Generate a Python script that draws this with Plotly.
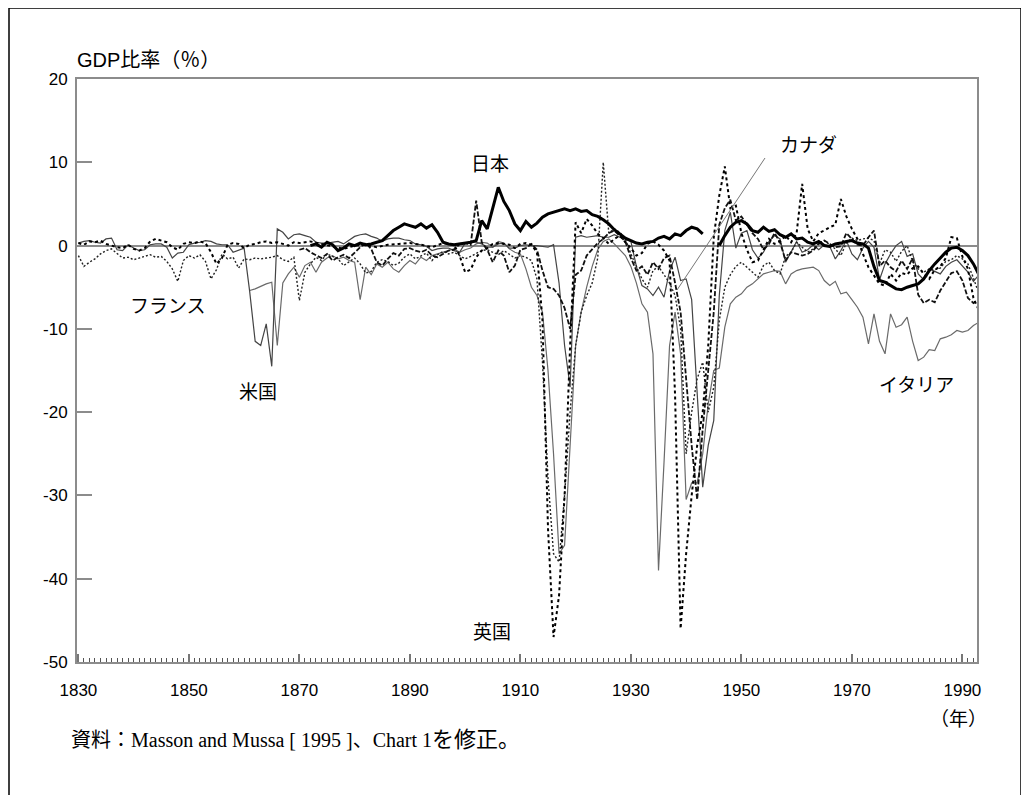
import plotly.graph_objects as go

# ---------------- data (year, % of GDP) ----------------
UK = [(1830,0.3),(1831,0.1),(1832,0.5),(1833,0.4),(1834,0.6),(1835,0.2),(1836,0.0),(1837,-0.2),
      (1838,-0.3),(1839,0.1),(1840,-0.4),(1841,-0.6),(1842,-0.3),(1843,0.5),(1844,0.8),(1845,0.6),
      (1846,0.4),(1847,-0.2),(1848,-0.5),(1849,0.2),(1850,0.4),(1851,0.3),(1852,0.5),(1853,0.3),
      (1854,-0.8),(1855,-2.2),(1856,-1.5),(1857,0.1),(1858,0.3),(1859,0.2),(1860,-0.3),(1861,0.1),
      (1862,0.2),(1863,0.4),(1864,0.5),(1865,0.3),(1866,0.4),(1867,0.2),(1868,0.0),(1869,0.4),
      (1870,0.3),(1872,0.5),(1874,0.2),(1876,-0.1),(1878,-0.4),(1880,0.0),(1882,0.1),(1884,-0.2),
      (1886,0.1),(1888,0.2),(1890,0.3),(1892,0.1),(1894,-0.2),(1896,0.3),(1898,0.1),(1899,-1.2),
      (1900,-3.2),(1901,-2.9),(1902,-1.4),(1903,-0.6),(1904,-0.3),(1905,0.2),(1906,0.3),(1907,0.2),
      (1908,0.1),(1909,-0.3),(1910,0.2),(1911,0.3),(1912,0.1),(1913,-0.8),(1914,-9),(1915,-34),
      (1916,-47),(1917,-42),(1918,-30),(1919,-12),(1920,2.8),(1921,1.5),(1922,3.2),(1923,2.4),
      (1924,1.4),(1925,0.9),(1926,0.2),(1927,0.8),(1928,1.2),(1929,0.4),(1930,-0.3),(1931,-1.2),
      (1932,-0.9),(1933,0.2),(1934,0.5),(1935,0.1),(1936,-0.6),(1937,-1.8),(1938,-18),(1939,-46),
      (1940,-37),(1941,-30),(1942,-24),(1943,-20),(1944,-12),(1945,1),(1946,6),(1947,9.5),
      (1948,4.5),(1949,4.8),(1950,1.5),(1951,-0.5),(1952,-2.0),(1953,-1.8),(1954,-0.5),(1955,0.8),
      (1956,0.2),(1957,0.5),(1958,1.2),(1959,0.4),(1960,1.5),(1961,7.4),(1962,2.0),(1963,0.5),
      (1964,1.5),(1965,1.8),(1966,2.2),(1967,2.5),(1968,5.6),(1969,3.5),(1970,2.0),(1971,0.8),
      (1972,-1.0),(1973,-2.6),(1974,-3.6),(1975,-4.6),(1976,-4.8),(1977,-3.4),(1978,-4.2),
      (1979,-3.3),(1980,-3.5),(1981,-2.7),(1982,-2.5),(1983,-3.4),(1984,-4.0),(1985,-2.9),
      (1986,-2.5),(1987,-1.5),(1988,1.0),(1989,0.9),(1990,-1.3),(1991,-2.8),(1992,-6.3),(1993,-7.8)]

FRANCE = [(1830,-1.2),(1831,-2.5),(1832,-2.0),(1833,-1.6),(1834,-1.0),(1835,-0.6),(1836,-0.4),
      (1837,-1.0),(1838,-1.5),(1839,-1.4),(1840,-1.7),(1841,-1.5),(1842,-1.3),(1843,-1.1),(1844,-1.4),
      (1845,-1.3),(1846,-1.9),(1847,-2.8),(1848,-4.3),(1849,-1.8),(1850,-1.2),(1851,-1.5),(1852,-1.1),
      (1853,-1.9),(1854,-4.0),(1855,-2.9),(1856,-1.0),(1857,-1.6),(1858,-1.4),(1859,-2.7),(1860,-1.6),
      (1861,-1.7),(1862,-1.5),(1863,-1.6),(1864,-1.5),(1865,-1.4),(1866,-1.2),(1867,-1.7),(1868,-1.9),
      (1869,-1.4),(1870,-6.6),(1871,-3.2),(1872,-2.2),(1873,-1.4),(1874,-1.8),(1875,-1.0),(1876,-1.3),
      (1877,-1.6),(1878,-2.4),(1879,-1.9),(1880,-1.5),(1881,-2.2),(1882,-3.3),(1883,-3.1),(1884,-2.0),
      (1885,-1.7),(1886,-1.9),(1887,-2.4),(1888,-2.1),(1889,-1.4),(1890,-1.0),(1891,-1.6),(1892,-1.2),
      (1893,-0.9),(1894,-1.8),(1895,-1.1),(1896,-0.7),(1897,-1.0),(1898,-0.8),(1899,-1.2),(1900,-1.6),
      (1901,-1.3),(1902,-0.9),(1903,-0.6),(1904,-0.5),(1905,-0.8),(1906,-1.1),(1907,-0.6),(1908,-1.0),
      (1909,-1.5),(1910,-1.2),(1911,-1.4),(1912,-1.8),(1913,-4.0),(1914,-14),(1915,-28),(1916,-37),
      (1917,-38),(1918,-30),(1919,-20),(1920,-12),(1921,-8),(1922,-6),(1923,-4.5),(1924,-1.5),
      (1925,10),(1926,1.5),(1927,2.0),(1928,1.6),(1929,0.8),(1930,-1.0),(1931,-2.6),(1932,-4.0),
      (1933,-5.0),(1934,-3.0),(1935,-2.5),(1936,-3.5),(1937,-4.5),(1938,-6.0),(1939,-10),(1940,-25),
      (1941,-20),(1942,-16),(1943,-14),(1944,-20),(1945,-17),(1946,-9),(1947,-5),(1948,-3.5),
      (1949,-2.5),(1950,-2.0),(1951,-2.6),(1952,-3.2),(1953,-3.8),(1954,-2.4),(1955,-2.0),(1956,-3.0),
      (1957,-3.4),(1958,-1.3),(1959,-0.8),(1960,0.4),(1961,-0.2),(1962,-0.8),(1963,-0.4),(1964,0.3),
      (1965,0.6),(1966,0.1),(1967,-0.4),(1968,-1.2),(1969,0.3),(1970,0.9),(1971,0.6),(1972,0.8),
      (1973,0.9),(1974,0.6),(1975,-2.2),(1976,-0.5),(1977,-0.8),(1978,-1.9),(1979,-0.7),(1980,0.0),
      (1981,-1.9),(1982,-2.8),(1983,-3.2),(1984,-2.8),(1985,-2.9),(1986,-2.7),(1987,-1.9),(1988,-1.7),
      (1989,-1.2),(1990,-1.6),(1991,-2.2),(1992,-3.9),(1993,-5.8)]

US = [(1830,0.3),(1831,0.5),(1832,0.6),(1833,0.4),(1834,0.3),(1835,0.8),(1836,0.9),(1837,-0.5),
      (1838,-0.6),(1839,0.1),(1840,-0.3),(1841,-0.6),(1842,-0.5),(1843,0.1),(1844,0.2),(1845,0.2),
      (1846,-0.2),(1847,-1.5),(1848,-0.9),(1849,-0.8),(1850,0.1),(1851,0.3),(1852,0.4),(1853,0.6),
      (1854,0.5),(1855,0.2),(1856,0.1),(1857,0.1),(1858,-0.8),(1859,-0.5),(1860,-0.3),(1861,-5.5),
      (1862,-11.5),(1863,-12.0),(1864,-9.4),(1865,-14.5),(1866,2.0),(1867,1.6),(1868,0.8),(1869,1.3),
      (1870,1.4),(1871,1.2),(1872,1.0),(1873,0.4),(1874,0.3),(1875,0.3),(1876,0.4),(1877,0.5),
      (1878,0.2),(1879,0.6),(1880,1.1),(1881,1.3),(1882,1.4),(1883,1.1),(1884,0.9),(1885,0.5),
      (1886,0.8),(1887,0.9),(1888,0.9),(1889,0.7),(1890,0.6),(1891,0.2),(1892,0.1),(1893,-0.1),
      (1894,-0.6),(1895,-0.4),(1896,-0.3),(1897,-0.3),(1898,-0.6),(1899,-0.8),(1900,0.3),(1901,0.4),
      (1902,0.4),(1903,0.2),(1904,-0.2),(1905,-0.2),(1906,0.2),(1907,0.3),(1908,-0.3),(1909,-0.3),
      (1910,0.0),(1911,0.1),(1912,0.0),(1913,0.0),(1914,-0.1),(1915,-0.2),(1916,0.1),(1917,-4.5),
      (1918,-12),(1919,-17),(1920,1.0),(1921,1.2),(1922,1.0),(1923,1.1),(1924,1.2),(1925,1.0),
      (1926,1.0),(1927,1.3),(1928,1.0),(1929,0.8),(1930,0.5),(1931,-2.5),(1932,-4.8),(1933,-5.2),
      (1934,-6.0),(1935,-5.0),(1936,-6.2),(1937,-3.0),(1938,-1.4),(1939,-4.2),(1940,-4.0),(1941,-6.5),
      (1942,-18),(1943,-29),(1944,-24),(1945,-21),(1946,-6),(1947,1.8),(1948,4.0),(1949,-0.3),
      (1950,1.5),(1951,1.8),(1952,-0.5),(1953,-1.5),(1954,-0.8),(1955,0.5),(1956,1.2),(1957,0.8),
      (1958,-2.0),(1959,-0.8),(1960,0.5),(1961,-0.8),(1962,-0.5),(1963,0.1),(1964,-0.5),(1965,0.1),
      (1966,-0.1),(1967,-1.6),(1968,-0.6),(1969,0.6),(1970,-1.0),(1971,-1.7),(1972,-0.3),(1973,0.5),
      (1974,-0.2),(1975,-4.1),(1976,-2.2),(1977,-1.0),(1978,0.0),(1979,0.5),(1980,-1.3),(1981,-1.0),
      (1982,-3.4),(1983,-4.1),(1984,-2.8),(1985,-3.1),(1986,-3.4),(1987,-2.5),(1988,-2.0),(1989,-1.7),
      (1990,-2.5),(1991,-3.2),(1992,-4.3),(1993,-3.5)]

ITALY = [(1861,-5.4),(1862,-5.2),(1863,-4.9),(1864,-4.6),(1865,-4.4),(1866,-12.0),(1867,-4.5),
      (1868,-3.4),(1869,-2.6),(1870,-3.8),(1871,-2.4),(1872,-2.0),(1873,-3.2),(1874,-2.0),(1875,-1.5),
      (1876,-1.2),(1877,-1.6),(1878,-1.4),(1879,-1.8),(1880,-2.0),(1881,-6.5),(1882,-2.6),(1883,-3.5),
      (1884,-2.2),(1885,-2.6),(1886,-2.0),(1887,-2.8),(1888,-3.2),(1889,-2.4),(1890,-1.8),(1891,-2.2),
      (1892,-1.4),(1893,-1.8),(1894,-1.2),(1895,-1.0),(1896,-0.8),(1897,-0.6),(1898,-0.4),(1899,-0.8),
      (1900,-0.5),(1901,-0.3),(1902,0.2),(1903,0.4),(1904,0.3),(1905,-0.2),(1906,0.5),(1907,0.3),
      (1908,-0.4),(1909,-0.8),(1910,-1.0),(1911,-2.8),(1912,-5.0),(1913,-6.0),(1914,-8.0),(1915,-15),
      (1916,-25),(1917,-37),(1918,-36),(1919,-24),(1920,-12),(1921,-8),(1922,-5),(1923,-2.5),
      (1924,-0.5),(1925,0.5),(1926,0.8),(1927,0.2),(1928,-0.5),(1929,-1.2),(1930,-2.5),(1931,-4.5),
      (1932,-7),(1933,-8),(1934,-13),(1935,-39),(1936,-26),(1937,-12),(1938,-8),(1939,-13),
      (1940,-30.5),(1941,-28.5),(1942,-28.5),(1943,-25),(1944,-19),(1945,-15),(1946,-14.7),(1947,-9.8),
      (1948,-7.0),(1949,-6.2),(1950,-5.8),(1951,-5.0),(1952,-4.6),(1953,-4.0),(1954,-3.4),(1955,-3.2),
      (1956,-3.0),(1957,-3.1),(1958,-4.6),(1959,-3.4),(1960,-3.0),(1961,-2.8),(1962,-2.7),(1963,-2.6),
      (1964,-3.0),(1965,-4.2),(1966,-4.8),(1967,-4.3),(1968,-5.8),(1969,-5.6),(1970,-6.5),(1971,-7.4),
      (1972,-8.6),(1973,-11.8),(1974,-8.2),(1975,-11.5),(1976,-13.0),(1977,-8.2),(1978,-9.8),
      (1979,-9.5),(1980,-8.6),(1981,-11.5),(1982,-13.8),(1983,-13.4),(1984,-12.5),(1985,-12.6),
      (1986,-11.2),(1987,-11.0),(1988,-10.7),(1989,-10.2),(1990,-10.4),(1991,-10.2),(1992,-9.6),
      (1993,-9.2)]

CANADA = [(1870,-0.5),(1871,-0.3),(1872,-0.8),(1873,-1.2),(1874,-1.5),(1875,-1.0),(1876,-1.8),
      (1877,-1.4),(1878,-1.1),(1879,-1.5),(1880,-0.8),(1881,-0.2),(1882,0.3),(1883,-0.4),(1884,-2.0),
      (1885,-2.4),(1886,-1.6),(1887,-0.9),(1888,-1.2),(1889,-0.4),(1890,-0.3),(1891,-0.6),(1892,-0.8),
      (1893,-0.5),(1894,-1.2),(1895,-1.4),(1896,-1.0),(1897,-0.6),(1898,-0.5),(1899,0.2),(1900,0.3),
      (1901,0.1),(1902,5.4),(1903,0.4),(1904,-0.5),(1905,-2.0),(1906,-0.6),(1907,-1.2),(1908,-3.2),
      (1909,-2.4),(1910,-0.5),(1911,-0.3),(1912,0.2),(1913,-0.5),(1914,-3.0),(1915,-5.0),(1916,-5.2),
      (1917,-6.0),(1918,-7.5),(1919,-10),(1920,-3.5),(1921,-3.0),(1922,-1.2),(1923,-0.5),(1924,0.3),
      (1925,0.8),(1926,1.5),(1927,1.8),(1928,1.2),(1929,0.5),(1930,-1.5),(1931,-3.0),(1932,-2.5),
      (1933,-3.5),(1934,-2.0),(1935,-2.8),(1936,-1.5),(1937,-1.2),(1938,-4.5),(1939,-8),(1940,-16),
      (1941,-24),(1942,-30.5),(1943,-22),(1944,-15),(1945,-8),(1946,2.5),(1947,4.5),(1948,5.5),
      (1949,3.0),(1950,3.5),(1951,2.5),(1952,1.5),(1953,0.8),(1954,-0.5),(1955,0.2),(1956,1.5),
      (1957,0.4),(1958,-1.8),(1959,-0.8),(1960,-1.0),(1961,-1.2),(1962,-1.0),(1963,-0.6),(1964,0.2),
      (1965,0.6),(1966,0.2),(1967,-0.2),(1968,-0.1),(1969,1.5),(1970,0.8),(1971,0.1),(1972,0.0),
      (1973,1.0),(1974,1.8),(1975,-2.5),(1976,-1.8),(1977,-2.6),(1978,-3.1),(1979,-1.8),(1980,-2.8),
      (1981,-1.5),(1982,-5.9),(1983,-6.9),(1984,-6.5),(1985,-6.8),(1986,-5.4),(1987,-4.4),(1988,-3.3),
      (1989,-3.1),(1990,-4.2),(1991,-6.3),(1992,-6.9),(1993,-6.5)]

JAPAN = [(1872,0.0),(1873,0.2),(1874,-0.2),(1875,0.4),(1876,0.1),(1877,-0.6),(1878,-0.3),(1879,0.2),
      (1880,0.0),(1881,0.3),(1882,0.1),(1883,0.2),(1884,0.4),(1885,0.6),(1886,1.2),(1887,1.8),
      (1888,2.2),(1889,2.6),(1890,2.4),(1891,2.2),(1892,2.6),(1893,2.1),(1894,2.5),(1895,1.6),
      (1896,0.4),(1897,0.2),(1898,0.1),(1899,0.2),(1900,0.3),(1901,0.4),(1902,0.6),(1903,3.0),
      (1904,2.0),(1905,4.5),(1906,7.0),(1907,5.3),(1908,4.2),(1909,2.6),(1910,1.8),(1911,2.9),
      (1912,2.2),(1913,2.7),(1914,3.4),(1915,3.8),(1916,4.0),(1917,4.2),(1918,4.4),(1919,4.2),
      (1920,4.4),(1921,4.1),(1922,4.2),(1923,3.7),(1924,3.5),(1925,3.1),(1926,2.6),(1927,1.9),
      (1928,1.4),(1929,0.9),(1930,0.6),(1931,0.3),(1932,0.2),(1933,0.4),(1934,0.5),(1935,0.9),
      (1936,1.1),(1937,0.8),(1938,1.4),(1939,1.2),(1940,1.8),(1941,2.2),(1942,2.0),(1943,1.4),
      (1944,None),
      (1946,0.0),(1947,1.2),(1948,2.2),(1949,2.8),(1950,3.0),(1951,2.6),(1952,1.8),(1953,1.6),
      (1954,2.2),(1955,1.7),(1956,1.9),(1957,1.3),(1958,1.0),(1959,1.4),(1960,0.8),(1961,0.9),
      (1962,0.4),(1963,0.2),(1964,0.5),(1965,0.0),(1966,-0.1),(1967,0.2),(1968,0.3),(1969,0.5),
      (1970,0.6),(1971,0.3),(1972,0.2),(1973,-0.3),(1974,-2.5),(1975,-4.2),(1976,-4.4),(1977,-4.8),
      (1978,-5.2),(1979,-5.3),(1980,-5.0),(1981,-4.8),(1982,-4.6),(1983,-4.0),(1984,-3.0),(1985,-2.2),
      (1986,-1.5),(1987,-0.8),(1988,-0.3),(1989,-0.2),(1990,-0.6),(1991,-1.2),(1992,-2.2),(1993,-3.5)]

X_TICKS = [1830, 1850, 1870, 1890, 1910, 1930, 1950, 1970, 1990]
Y_TICKS = [20, 10, 0, -10, -20, -30, -40, -50]
Y_TICK_TEXT = ["20", "10", "0", "-10", "-20", "-30", "-40", "-50"]

# ---------------- layout geometry ----------------
# the page body has an 8px margin, so the figure is drawn 8px smaller and
# all page positions below are converted through the plot area.
OFF = 8
W, H = 1029 - OFF, 795 - OFF
PL, PR, PT, PB = 77, 977, 79, 662          # plot area, page pixels
PX_PER_YEAR = 5.525
X0 = 1829.75
X1 = X0 + (PR - PL) / PX_PER_YEAR


def fx(p):
    return (p - PL) / (PR - PL)


def fy(p):
    return (PB - p) / (PB - PT)


def split(series):
    return [a for a, _ in series], [b for _, b in series]


FONT = "Liberation Sans, Arial, Noto Sans CJK JP, sans-serif"
CJK = "Noto Sans CJK JP, Liberation Sans, sans-serif"
SERIF = "Liberation Serif, Times New Roman, Noto Sans CJK JP, serif"

fig = go.Figure()

styles = [
    (ITALY, dict(color="#6a6a6a", width=1.2)),
    (US, dict(color="#444444", width=1.2)),
    (FRANCE, dict(color="#222222", width=1.4, dash="2px,2px")),
    (CANADA, dict(color="#111111", width=1.8, dash="5px,2px")),
    (UK, dict(color="#000000", width=2.0, dash="dot")),
    (JAPAN, dict(color="#000000", width=3.0)),
]
for series, line in styles:
    xs, ys = split(series)
    fig.add_trace(go.Scatter(x=xs, y=ys, mode="lines", line=line,
                             connectgaps=False, hoverinfo="skip", showlegend=False))

labels = [
    ("日本", 490, 163),
    ("カナダ", 808, 143),
    ("フランス", 168, 304),
    ("米国", 258, 390),
    ("英国", 492, 630),
    ("イタリア", 916, 383),
]
ann = []
for t, x, y in labels:
    ann.append(dict(text=t, x=fx(x), y=fy(y), xref="paper", yref="paper",
                    showarrow=False, xanchor="center", yanchor="middle",
                    font=dict(family=CJK, size=19, color="#000")))
ann.append(dict(text="GDP比率（％）", x=fx(75), y=fy(60), xref="paper", yref="paper",
                showarrow=False, xanchor="left", yanchor="middle",
                font=dict(family=FONT, size=20, color="#000")))
ann.append(dict(text="（年）", x=fx(958), y=fy(718), xref="paper", yref="paper",
                showarrow=False, xanchor="center", yanchor="middle",
                font=dict(family=CJK, size=19, color="#000")))
ann.append(dict(text="資料：Masson and Mussa [ 1995 ]、Chart 1"
                     "<span style='font-size:22px'>を修正。</span>",
                x=fx(69), y=fy(740),
                xref="paper", yref="paper", showarrow=False, xanchor="left", yanchor="middle",
                font=dict(family=SERIF, size=20, color="#000")))

shapes = [
    # outer frame (page pixels)
    dict(type="rect", xref="paper", yref="paper", x0=fx(9), x1=fx(1021), y0=fy(840), y1=fy(8),
         line=dict(color="#000", width=1.5), fillcolor="rgba(0,0,0,0)", layer="below"),
    # Canada pointer
    dict(type="line", xref="paper", yref="paper", x0=fx(765), y0=fy(158), x1=fx(677), y1=fy(290),
         line=dict(color="#777", width=1)),
]

fig.update_layout(
    width=W, height=H,
    margin=dict(l=PL - OFF, r=W - (PR - OFF), t=PT - OFF, b=H - (PB - OFF), pad=0),
    paper_bgcolor="white", plot_bgcolor="white",
    annotations=ann, shapes=shapes,
    font=dict(family=FONT, size=17, color="#000"),
    xaxis=dict(range=[X0, X1], showgrid=False, zeroline=False,
               showline=True, mirror=True, linecolor="#8c8c8c", linewidth=2,
               tickmode="array", tickvals=X_TICKS, ticktext=[str(v) for v in X_TICKS],
               ticks="inside", ticklen=8, tickwidth=1.5, tickcolor="#777",
               minor=dict(dtick=1, tick0=1830, ticks="inside", ticklen=4, tickwidth=1,
                          tickcolor="#555"),
               tickfont=dict(family=FONT, size=17, color="#000"), ticklabelstandoff=12),
    yaxis=dict(range=[-50, 20], showgrid=False, zeroline=True, zerolinecolor="#8c8c8c",
               zerolinewidth=1.5, showline=True, mirror=True, linecolor="#8c8c8c", linewidth=2,
               tickmode="array", tickvals=Y_TICKS, ticktext=Y_TICK_TEXT,
               ticks="inside", ticklen=15, tickwidth=2,
               tickcolor="#8c8c8c", tickfont=dict(family=FONT, size=17, color="#000"),
               ticklabelstandoff=4),
)

fig.write_html("out.html")
